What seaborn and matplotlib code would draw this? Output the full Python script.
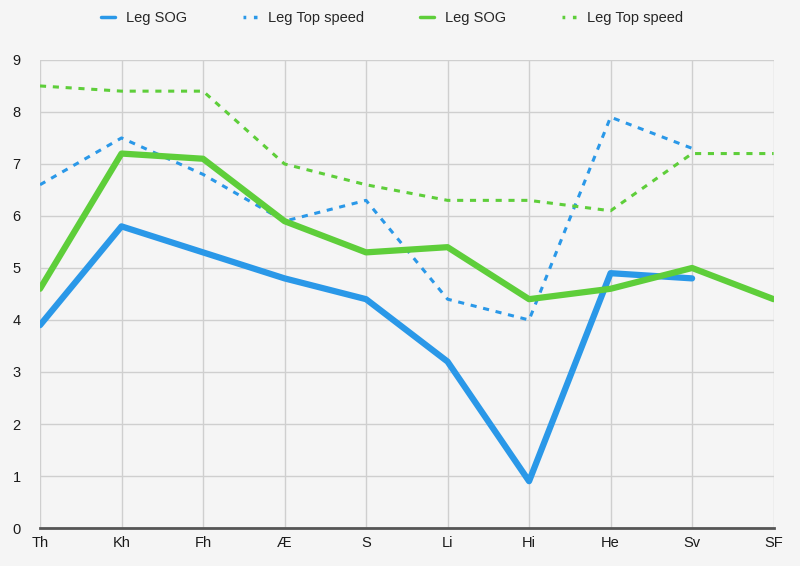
import numpy as np
import pandas as pd
import matplotlib
matplotlib.use("Agg")
import matplotlib.pyplot as plt
import seaborn as sns

categories = ["Th", "Kh", "Fh", "Æ", "S", "Li", "Hi", "He", "Sv", "SF"]
blue_sog = [3.9, 5.8, 5.3, 4.8, 4.4, 3.2, 0.9, 4.9, 4.8, np.nan]
blue_top = [6.6, 7.5, 6.8, 5.9, 6.3, 4.4, 4.0, 7.9, 7.3, np.nan]
green_sog = [4.6, 7.2, 7.1, 5.9, 5.3, 5.4, 4.4, 4.6, 5.0, 4.4]
green_top = [8.5, 8.4, 8.4, 7.0, 6.6, 6.3, 6.3, 6.1, 7.2, 7.2]
y_ticks = list(range(0, 10))

sns.set_theme(style="white")
plt.rcParams["font.family"] = ["Liberation Sans", "DejaVu Sans"]

BLUE = "#2a98e8"
GREEN = "#5ece3a"
BG = "#f5f5f5"

fig = plt.figure(figsize=(8, 5.66), dpi=100, facecolor=BG)
ax = fig.add_axes([0.05, 0.0671, 0.917, 0.827])
ax.set_facecolor(BG)

x = np.arange(len(categories))
series = [
    (blue_sog, BLUE, "-", 4.5, "Leg SOG"),
    (blue_top, BLUE, (0, (2, 2.2)), 2.2, "Leg Top speed"),
    (green_sog, GREEN, "-", 4.5, "Leg SOG"),
    (green_top, GREEN, (0, (2, 2.2)), 2.2, "Leg Top speed"),
]
handles = []
for vals, col, ls, lw, lab in series:
    df = pd.DataFrame({"x": x, "y": vals})
    sns.lineplot(data=df, x="x", y="y", ax=ax, color=col, linestyle=ls,
                 linewidth=lw, label=lab, legend=False)
    h, = ax.plot([], [], color=col, linestyle=(0.8, (1.6, 2.2)) if ls != "-" else "-",
                 linewidth=2.5)
    handles.append((h, lab))

ax.set_xlim(0, len(categories) - 1)
ax.set_ylim(0, 9)
ax.set_xticks(x)
ax.set_xticklabels(categories)
ax.set_yticks(y_ticks)
ax.set_xlabel("")
ax.set_ylabel("")
ax.grid(True, color="#cfcfcf", linewidth=1)
ax.set_axisbelow(True)
for s in ["top", "right", "left"]:
    ax.spines[s].set_visible(False)
ax.spines["bottom"].set_color("#555555")
ax.spines["bottom"].set_linewidth(2)
ax.tick_params(axis="both", length=0, labelsize=10.5, colors="#1a1a1a")
ax.tick_params(axis="y", pad=14)
ax.tick_params(axis="x", pad=6)

fig.legend([h for h, _ in handles], [l for _, l in handles], loc="upper center",
           bbox_to_anchor=(0.49, 1.004), ncol=4, frameon=False, fontsize=10.5,
           handlelength=1.0, columnspacing=3.8, handletextpad=0.75)

fig.savefig("out.png", dpi=100, facecolor=BG)
